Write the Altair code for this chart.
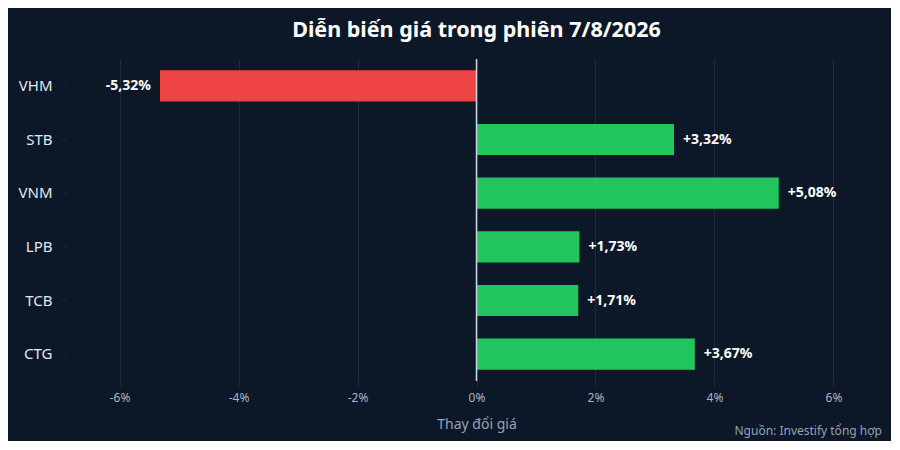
import altair as alt
import pandas as pd

# Mã cổ phiếu và % thay đổi giá
MA_CP = ["VHM", "STB", "VNM", "LPB", "TCB", "CTG"]
THAY_DOI = [-5.32, 3.32, 5.08, 1.73, 1.71, 3.67]

BG = "#0c1727"
GRID = "#1f2b3d"
FONT = "Noto Sans"

def nhan(v):
    s = f"{v:+.2f}".replace(".", ",")
    return s + "%"

df = pd.DataFrame({
    "ma": MA_CP,
    "pct": THAY_DOI,
    "nhan": [nhan(v) for v in THAY_DOI],
    "chieu": ["tang" if v >= 0 else "giam" for v in THAY_DOI],
})

x_scale = alt.Scale(domain=[-6.9, 6.9], nice=False)
y_enc = alt.Y(
    "ma:N", sort=None, title=None,
    scale=alt.Scale(paddingInner=0.42, paddingOuter=0.21),
    axis=alt.Axis(labelColor="#e2e8f0", labelFontSize=15, labelFont=FONT,
                  tickColor=GRID, tickSize=4, labelPadding=10, domain=False),
)

base = alt.Chart(df)

bars = base.mark_bar().encode(
    x=alt.X(
        "pct:Q", scale=x_scale, title="Thay đổi giá",
        axis=alt.Axis(values=[-6, -4, -2, 0, 2, 4, 6], labelExpr="datum.value + '%'",
                      grid=True, gridColor=GRID, domain=False, tickColor=GRID,
                      tickSize=5, labelColor="#aab4c3", labelFontSize=12, labelFont=FONT,
                      titleColor="#94a3b8", titleFontSize=14, titleFontWeight="normal",
                      titleFont=FONT, titlePadding=14, labelPadding=6),
    ),
    y=y_enc,
    color=alt.Color("chieu:N", scale=alt.Scale(domain=["tang", "giam"],
                                              range=["#22c55e", "#ef4444"]), legend=None),
)

zero = alt.Chart(pd.DataFrame({"x": [0]})).mark_rule(color="#cbd5e1", strokeWidth=1.5).encode(
    x=alt.X("x:Q", scale=x_scale)
)

txt_tang = base.transform_filter("datum.pct >= 0").mark_text(
    align="left", dx=9, color="white", fontSize=14, fontWeight="bold", font=FONT
).encode(x=alt.X("pct:Q", scale=x_scale), y=y_enc, text="nhan:N")

txt_giam = base.transform_filter("datum.pct < 0").mark_text(
    align="right", dx=-9, color="white", fontSize=14, fontWeight="bold", font=FONT
).encode(x=alt.X("pct:Q", scale=x_scale), y=y_enc, text="nhan:N")

nguon = alt.Chart(pd.DataFrame({"t": ["Nguồn: Investify tổng hợp"]})).mark_text(
    align="right", baseline="middle", color="#94a3b8", fontSize=12, font=FONT
).encode(x=alt.value(816), y=alt.value(372), text="t:N")

chart = (
    alt.layer(bars, zero, txt_tang, txt_giam, nguon)
    .properties(
        width=821, height=322,
        autosize=alt.AutoSizeParams(type="none"),
        padding={"left": 58, "top": 51, "right": 4, "bottom": 60},
        background=BG,
        title=alt.Title("Diễn biến giá trong phiên 7/8/2026", font=FONT, fontSize=21.5,
                        fontWeight="bold", color="white", anchor="middle", offset=17),
    )
    .configure_view(stroke=None)
)

chart.save("out.html", embed_options={"renderer": "svg", "actions": False})
